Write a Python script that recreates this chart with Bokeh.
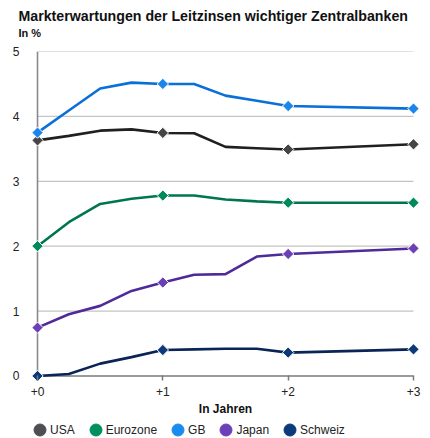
import math
from bokeh.plotting import figure
from bokeh.layouts import column
from bokeh.models import (Range1d, FixedTicker, Title, Legend, LegendItem)
from bokeh.embed import file_html
from bokeh.resources import INLINE

# ---- data ----
years = [0, 0.25, 0.5, 0.75, 1, 1.25, 1.5, 1.75, 2, 3]
usa = [3.63, 3.70, 3.78, 3.80, 3.745, 3.74, 3.53, 3.51, 3.49, 3.57]
eurozone = [2.00, 2.37, 2.65, 2.73, 2.78, 2.78, 2.72, 2.69, 2.67, 2.67]
gb = [3.75, 4.09, 4.43, 4.52, 4.50, 4.50, 4.32, 4.24, 4.16, 4.12]
japan = [0.745, 0.95, 1.08, 1.31, 1.44, 1.56, 1.57, 1.84, 1.88, 1.965]
schweiz = [0.00, 0.03, 0.19, 0.29, 0.40, 0.41, 0.42, 0.42, 0.36, 0.41]

series_names = ["USA", "Eurozone", "GB", "Japan", "Schweiz"]
x_ticks = [0, 1, 2, 3]
x_tick_labels = ["+0", "+1", "+2", "+3"]
y_ticks = [0, 1, 2, 3, 4, 5]
y_tick_labels = ["0", "1", "2", "3", "4", "5"]

title_text = "Markterwartungen der Leitzinsen wichtiger Zentralbanken"
unit_text = "In %"
x_label_text = "In Jahren"

# ---- styles ----
line_colors = ["#202020", "#00774b", "#0a6fd6", "#4f2a9a", "#0a2456"]
marker_colors = ["#454545", "#008a5a", "#1a85ea", "#6b3fb5", "#0c3a78"]
legend_colors = ["#4d4f52", "#00905f", "#1a8cf0", "#6d40b8", "#0c3a7a"]
FONT = "Liberation Sans"

FW, FH = 386, 329
p = figure(frame_width=FW, frame_height=FH, output_backend="svg",
           toolbar_location=None, x_range=Range1d(-0.04, 3.04),
           y_range=Range1d(-0.07, 5.0), min_border_left=32,
           min_border_right=12, min_border_top=51, min_border_bottom=42)
p.outline_line_color = None
p.grid.visible = False
p.background_fill_color = "white"
p.border_fill_color = "white"

# titles (stacked from the frame outward: spacer, unit, main title)
spacer = Title(text=" ", standoff=0, text_font=FONT, text_font_size="9px")
p.add_layout(spacer, "above")
sub = Title(text=unit_text, align="left", offset=-14, standoff=2,
            text_font=FONT, text_font_style="bold", text_font_size="11px",
            text_color="#111111")
p.add_layout(sub, "above")
p.title.text = title_text
p.title.align = "left"
p.title.offset = -14
p.title.standoff = 0
p.title.text_font = FONT
p.title.text_font_style = "bold"
p.title.text_font_size = "14.2px"
p.title.text_color = "#111111"

# gridlines
gy = y_ticks[1:]
p.segment(x0=[years[0]] * len(gy), x1=[years[-1]] * len(gy), y0=gy, y1=gy,
          line_color="#c4c4c4", line_width=1.2)
# axis lines
p.segment(x0=[years[0]], x1=[years[0]], y0=[y_ticks[0]], y1=[y_ticks[-1]],
          line_color="#8a8a8a", line_width=1.6)
p.segment(x0=[years[0]], x1=[years[-1]], y0=[y_ticks[0]], y1=[y_ticks[0]],
          line_color="#7a7a7a", line_width=1.6)

# axes
xa = p.xaxis[0]
xa.ticker = FixedTicker(ticks=x_ticks)
xa.major_label_overrides = {t: l for t, l in zip(x_ticks, x_tick_labels)}
xa.axis_line_color = None
xa.major_tick_in = 5
xa.major_tick_out = 0
xa.major_tick_line_color = "#7a7a7a"
xa.major_tick_line_width = 1.5
xa.minor_tick_line_color = None
xa.major_label_standoff = 6
xa.major_label_text_font = FONT
xa.major_label_text_font_size = "12px"
xa.major_label_text_color = "#222222"
xa.axis_label = x_label_text
xa.axis_label_standoff = 3
xa.axis_label_text_font = FONT
xa.axis_label_text_font_style = "bold"
xa.axis_label_text_font_size = "12px"
xa.axis_label_text_color = "#111111"

ya = p.yaxis[0]
ya.ticker = FixedTicker(ticks=y_ticks)
ya.major_label_overrides = {t: l for t, l in zip(y_ticks, y_tick_labels)}
ya.axis_line_color = None
ya.major_tick_line_color = None
ya.minor_tick_line_color = None
ya.major_label_standoff = 7
ya.major_label_text_font = FONT
ya.major_label_text_font_size = "12px"
ya.major_label_text_color = "#222222"

all_series = [usa, eurozone, gb, japan, schweiz]
for vals, lc, mc in zip(all_series, line_colors, marker_colors):
    p.line(years, vals, line_color=lc, line_width=2.6)
    mx = [x for x in years if x in x_ticks]
    my = [v for x, v in zip(years, vals) if x in x_ticks]
    p.scatter(mx, my, marker="square", angle=math.pi / 4, size=8,
              fill_color=mc, line_color="white", line_width=1)

# ---- legend strip (separate small figure, no axes) ----
lf = figure(width=430, height=16, output_backend="svg", toolbar_location=None,
            x_range=Range1d(0, 1), y_range=Range1d(0, 1),
            x_axis_type=None, y_axis_type=None,
            min_border=0, min_border_left=0, min_border_right=0,
            min_border_top=0, min_border_bottom=0)
lf.grid.visible = False
lf.outline_line_color = None
lf.border_fill_color = "white"
legend_items = []
for name, gc in zip(series_names, legend_colors):
    # proxy point placed outside the visible range: only its legend glyph shows
    r = lf.ellipse(x=[-5], y=[-5], width=10, height=10, width_units="screen",
                   height_units="screen", fill_color=gc, line_color=gc)
    legend_items.append(LegendItem(label=name, renderers=[r]))
legend = Legend(items=legend_items, orientation="horizontal",
                location=(0, 1), glyph_width=15, glyph_height=15,
                label_standoff=3, spacing=13, padding=0, margin=0,
                label_width=0, label_height=15, border_line_color=None,
                background_fill_alpha=0, label_text_font=FONT,
                label_text_font_size="12px", label_text_color="#222222",
                label_text_baseline="middle")
lf.add_layout(legend, "center")

layout = column(p, lf, spacing=0)
open("out.html", "w").write(file_html(layout, INLINE))
